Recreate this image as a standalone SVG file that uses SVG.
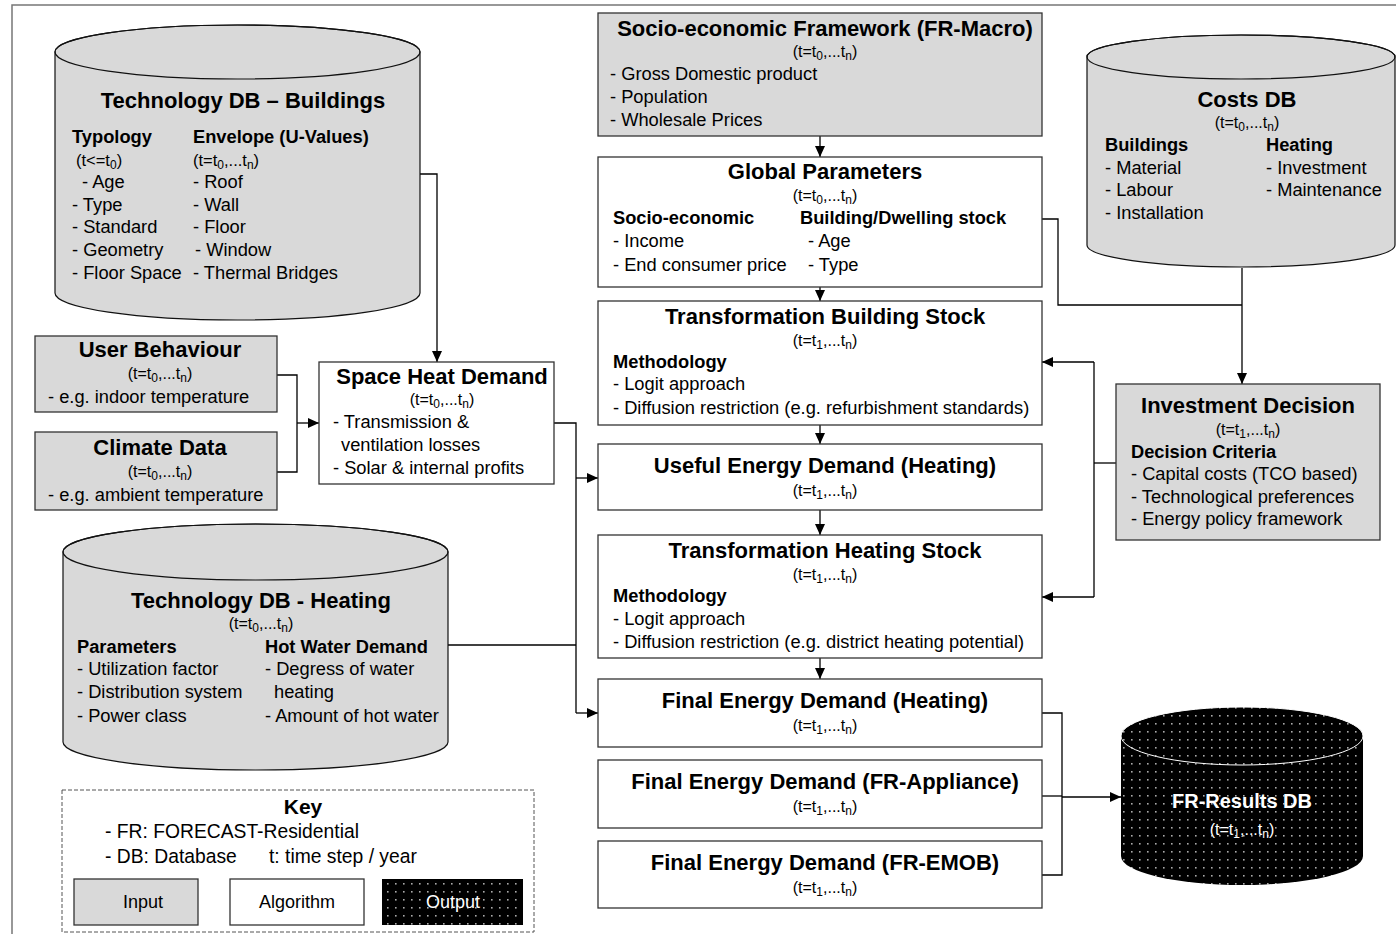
<svg xmlns="http://www.w3.org/2000/svg" width="1396" height="934" viewBox="0 0 1396 934">
<style>
text{font-family:"Liberation Sans",Arial,sans-serif;fill:#000}
.h{font-size:22px;font-weight:bold;text-anchor:middle}
.s{font-size:16px;text-anchor:middle}
.b{font-size:18.3px}
.sb{font-size:18.3px;font-weight:bold}
.k{font-size:19.3px}
.in{fill:#d9d9d9;stroke:#333;stroke-width:1.3}
.al{fill:#fff;stroke:#333;stroke-width:1.3}
.cy{fill:#d9d9d9;stroke:#111;stroke-width:1.2}
.c{fill:none;stroke:#000;stroke-width:1.3}
.a{fill:none;stroke:#000;stroke-width:1.3;marker-end:url(#arr)}
</style>
<defs>
<marker id="arr" markerUnits="userSpaceOnUse" markerWidth="12" markerHeight="10" refX="11" refY="5" orient="auto">
<path d="M0,0 L11,5 L0,10 Z" fill="#000"/>
</marker>
<pattern id="dots" width="8" height="8" patternUnits="userSpaceOnUse">
<rect width="8" height="8" fill="#000"/>
<rect x="3" y="3" width="1.6" height="1.6" fill="#aaa"/>
</pattern>
</defs>
<rect x="12" y="5" width="1420" height="960" fill="none" stroke="#777" stroke-width="1.5"/>

<g id="connectors">
<path class="a" d="M420,174 H437 V362"/>
<path class="c" d="M277,375 H297 V472 H277"/>
<path class="a" d="M297,423 H319"/>
<path class="c" d="M554,423 H576 V713"/>
<path class="a" d="M576,478 H598"/>
<path class="a" d="M576,713 H598"/>
<path class="c" d="M448,645 H576"/>
<path class="a" d="M820,136 V157"/>
<path class="a" d="M820,287 V301"/>
<path class="a" d="M820,425 V444"/>
<path class="a" d="M820,510 V535"/>
<path class="a" d="M820,658 V679"/>
<path class="c" d="M1042,219 H1058 V305 H1242"/>
<path class="a" d="M1242,268 V384"/>
<path class="c" d="M1116,463 H1094"/>
<path class="c" d="M1094,362 V597"/>
<path class="a" d="M1094,362 H1042"/>
<path class="a" d="M1094,597 H1042"/>
<path class="c" d="M1042,713 H1062 V875 H1042"/>
<path class="c" d="M1042,796 H1062"/>
<path class="a" d="M1062,797 H1121"/>
</g>

<g id="tech-db-buildings">
<path class="cy" d="M55,52 V293 A182.5,27 0 0 0 420,293 V52 A182.5,27 0 0 0 55,52 Z"/>
<ellipse cx="237.5" cy="52" rx="182.5" ry="27" fill="none" stroke="#111" stroke-width="1.2"/>
<text class="h" x="243" y="108">Technology DB – Buildings</text>
<text class="sb" x="72" y="143">Typology</text>
<text class="sb" x="193" y="143">Envelope (U-Values)</text>
<text x="76" y="166" font-size="16.5">(t&lt;=t<tspan dy="3" font-size="12">0</tspan><tspan dy="-3">)</tspan></text>
<text x="193" y="166" font-size="16.5">(t=t<tspan dy="3" font-size="12">0</tspan><tspan dy="-3">,...t</tspan><tspan dy="3" font-size="12">n</tspan><tspan dy="-3">)</tspan></text>
<text class="b" x="82" y="188">- Age</text>
<text class="b" x="72" y="211">- Type</text>
<text class="b" x="72" y="233">- Standard</text>
<text class="b" x="72" y="256">- Geometry</text>
<text class="b" x="72" y="279">- Floor Space</text>
<text class="b" x="193" y="188">- Roof</text>
<text class="b" x="193" y="211">- Wall</text>
<text class="b" x="193" y="233">- Floor</text>
<text class="b" x="195" y="256">- Window</text>
<text class="b" x="193" y="279">- Thermal Bridges</text>
</g>

<g id="socio-economic">
<rect class="in" x="598" y="13" width="444" height="123"/>
<text class="h" x="825" y="36">Socio-economic Framework (FR-Macro)</text>
<text class="s" x="825" y="57">(t=t<tspan dy="3" font-size="12">0</tspan><tspan dy="-3">,...t</tspan><tspan dy="3" font-size="12">n</tspan><tspan dy="-3">)</tspan></text>
<text class="b" x="610" y="80">- Gross Domestic product</text>
<text class="b" x="610" y="103">- Population</text>
<text class="b" x="610" y="126">- Wholesale Prices</text>
</g>

<g id="costs-db">
<path class="cy" d="M1087,57 V245 A154,22 0 0 0 1395,245 V57 A154,22 0 0 0 1087,57 Z"/>
<ellipse cx="1241" cy="57" rx="154" ry="22" fill="none" stroke="#111" stroke-width="1.2"/>
<text class="h" x="1247" y="107">Costs DB</text>
<text class="s" x="1247" y="128">(t=t<tspan dy="3" font-size="12">0</tspan><tspan dy="-3">,...t</tspan><tspan dy="3" font-size="12">n</tspan><tspan dy="-3">)</tspan></text>
<text class="sb" x="1105" y="151">Buildings</text>
<text class="sb" x="1266" y="151">Heating</text>
<text class="b" x="1105" y="174">- Material</text>
<text class="b" x="1105" y="196">- Labour</text>
<text class="b" x="1105" y="219">- Installation</text>
<text class="b" x="1266" y="174">- Investment</text>
<text class="b" x="1266" y="196">- Maintenance</text>
</g>

<g id="global-parameters">
<rect class="al" x="598" y="157" width="444" height="130"/>
<text class="h" x="825" y="179">Global Parameters</text>
<text class="s" x="825" y="201">(t=t<tspan dy="3" font-size="12">0</tspan><tspan dy="-3">,...t</tspan><tspan dy="3" font-size="12">n</tspan><tspan dy="-3">)</tspan></text>
<text class="sb" x="613" y="224">Socio-economic</text>
<text class="sb" x="800" y="224">Building/Dwelling stock</text>
<text class="b" x="613" y="247">- Income</text>
<text class="b" x="613" y="271">- End consumer price</text>
<text class="b" x="808" y="247">- Age</text>
<text class="b" x="808" y="271">- Type</text>
</g>

<g id="transformation-building-stock">
<rect class="al" x="598" y="301" width="444" height="124"/>
<text class="h" x="825" y="324">Transformation Building Stock</text>
<text class="s" x="825" y="346">(t=t<tspan dy="3" font-size="12">1</tspan><tspan dy="-3">,...t</tspan><tspan dy="3" font-size="12">n</tspan><tspan dy="-3">)</tspan></text>
<text class="sb" x="613" y="368">Methodology</text>
<text class="b" x="613" y="390">- Logit approach</text>
<text class="b" x="613" y="414">- Diffusion restriction (e.g. refurbishment standards)</text>
</g>

<g id="user-behaviour">
<rect class="in" x="35" y="336" width="242" height="76"/>
<text class="h" x="160" y="357">User Behaviour</text>
<text class="s" x="160" y="379">(t=t<tspan dy="3" font-size="12">0</tspan><tspan dy="-3">,...t</tspan><tspan dy="3" font-size="12">n</tspan><tspan dy="-3">)</tspan></text>
<text class="b" x="48" y="403">- e.g. indoor temperature</text>
</g>

<g id="climate-data">
<rect class="in" x="35" y="432" width="242" height="78"/>
<text class="h" x="160" y="455">Climate Data</text>
<text class="s" x="160" y="477">(t=t<tspan dy="3" font-size="12">0</tspan><tspan dy="-3">,...t</tspan><tspan dy="3" font-size="12">n</tspan><tspan dy="-3">)</tspan></text>
<text class="b" x="48" y="501">- e.g. ambient temperature</text>
</g>

<g id="space-heat-demand">
<rect class="al" x="319" y="362" width="235" height="122"/>
<text class="h" x="442" y="384">Space Heat Demand</text>
<text class="s" x="442" y="405">(t=t<tspan dy="3" font-size="12">0</tspan><tspan dy="-3">,...t</tspan><tspan dy="3" font-size="12">n</tspan><tspan dy="-3">)</tspan></text>
<text class="b" x="333" y="428">- Transmission &amp;</text>
<text class="b" x="341" y="451">ventilation losses</text>
<text class="b" x="333" y="474">- Solar &amp; internal profits</text>
</g>

<g id="useful-energy-demand">
<rect class="al" x="598" y="444" width="444" height="66"/>
<text class="h" x="825" y="473">Useful Energy Demand (Heating)</text>
<text class="s" x="825" y="496">(t=t<tspan dy="3" font-size="12">1</tspan><tspan dy="-3">,...t</tspan><tspan dy="3" font-size="12">n</tspan><tspan dy="-3">)</tspan></text>
</g>

<g id="investment-decision">
<rect class="in" x="1116" y="384" width="264" height="156"/>
<text class="h" x="1248" y="413">Investment Decision</text>
<text class="s" x="1248" y="435">(t=t<tspan dy="3" font-size="12">1</tspan><tspan dy="-3">,...t</tspan><tspan dy="3" font-size="12">n</tspan><tspan dy="-3">)</tspan></text>
<text class="sb" x="1131" y="458">Decision Criteria</text>
<text class="b" x="1131" y="480">- Capital costs (TCO based)</text>
<text class="b" x="1131" y="503">- Technological preferences</text>
<text class="b" x="1131" y="525">- Energy policy framework</text>
</g>

<g id="transformation-heating-stock">
<rect class="al" x="598" y="535" width="444" height="123"/>
<text class="h" x="825" y="558">Transformation Heating Stock</text>
<text class="s" x="825" y="580">(t=t<tspan dy="3" font-size="12">1</tspan><tspan dy="-3">,...t</tspan><tspan dy="3" font-size="12">n</tspan><tspan dy="-3">)</tspan></text>
<text class="sb" x="613" y="602">Methodology</text>
<text class="b" x="613" y="625">- Logit approach</text>
<text class="b" x="613" y="648">- Diffusion restriction (e.g. district heating potential)</text>
</g>

<g id="tech-db-heating">
<path class="cy" d="M63,552 V742 A192.5,28 0 0 0 448,742 V552 A192.5,28 0 0 0 63,552 Z"/>
<ellipse cx="255.5" cy="552" rx="192.5" ry="28" fill="none" stroke="#111" stroke-width="1.2"/>
<text class="h" x="261" y="608">Technology DB - Heating</text>
<text class="s" x="261" y="629">(t=t<tspan dy="3" font-size="12">0</tspan><tspan dy="-3">,...t</tspan><tspan dy="3" font-size="12">n</tspan><tspan dy="-3">)</tspan></text>
<text class="sb" x="77" y="653">Parameters</text>
<text class="sb" x="265" y="653">Hot Water Demand</text>
<text class="b" x="77" y="675">- Utilization factor</text>
<text class="b" x="77" y="698">- Distribution system</text>
<text class="b" x="77" y="722">- Power class</text>
<text class="b" x="265" y="675">- Degress of water</text>
<text class="b" x="274" y="698">heating</text>
<text class="b" x="265" y="722">- Amount of hot water</text>
</g>

<g id="final-energy-heating">
<rect class="al" x="598" y="679" width="444" height="68"/>
<text class="h" x="825" y="708">Final Energy Demand (Heating)</text>
<text class="s" x="825" y="731">(t=t<tspan dy="3" font-size="12">1</tspan><tspan dy="-3">,...t</tspan><tspan dy="3" font-size="12">n</tspan><tspan dy="-3">)</tspan></text>
</g>

<g id="final-energy-appliance">
<rect class="al" x="598" y="760" width="444" height="68"/>
<text class="h" x="825" y="789">Final Energy Demand (FR-Appliance)</text>
<text class="s" x="825" y="812">(t=t<tspan dy="3" font-size="12">1</tspan><tspan dy="-3">,...t</tspan><tspan dy="3" font-size="12">n</tspan><tspan dy="-3">)</tspan></text>
</g>

<g id="final-energy-emob">
<rect class="al" x="598" y="841" width="444" height="67"/>
<text class="h" x="825" y="870">Final Energy Demand (FR-EMOB)</text>
<text class="s" x="825" y="893">(t=t<tspan dy="3" font-size="12">1</tspan><tspan dy="-3">,...t</tspan><tspan dy="3" font-size="12">n</tspan><tspan dy="-3">)</tspan></text>
</g>

<g id="fr-results-db">
<path d="M1121,736 V856 A121,29 0 0 0 1363,856 V736 A121,29 0 0 0 1121,736 Z" fill="url(#dots)"/>
<ellipse cx="1242" cy="736" rx="121" ry="29" fill="none" stroke="#fff" stroke-width="1"/>
<text x="1242" y="808" font-size="20" font-weight="bold" text-anchor="middle" style="fill:#fff">FR-Results DB</text>
<text class="s" x="1242" y="835" style="fill:#fff">(t=t<tspan dy="3" font-size="12">1</tspan><tspan dy="-3">,...t</tspan><tspan dy="3" font-size="12">n</tspan><tspan dy="-3">)</tspan></text>
</g>

<g id="key">
<rect x="62" y="790" width="472" height="142" fill="none" stroke="#555" stroke-width="1" stroke-dasharray="4,2"/>
<text x="303" y="814" font-size="21" font-weight="bold" text-anchor="middle">Key</text>
<text class="k" x="105" y="838">- FR: FORECAST-Residential</text>
<text class="k" x="105" y="863">- DB: Database</text>
<text class="k" x="269" y="863">t: time step / year</text>
<rect class="in" x="74" y="879" width="124" height="46"/>
<text x="143" y="908" font-size="18" text-anchor="middle">Input</text>
<rect class="al" x="230" y="879" width="134" height="46"/>
<text x="297" y="908" font-size="18" text-anchor="middle">Algorithm</text>
<rect x="382" y="879" width="141" height="46" fill="url(#dots)"/>
<text x="453" y="908" font-size="18" text-anchor="middle" style="fill:#fff">Output</text>
</g>
</svg>
